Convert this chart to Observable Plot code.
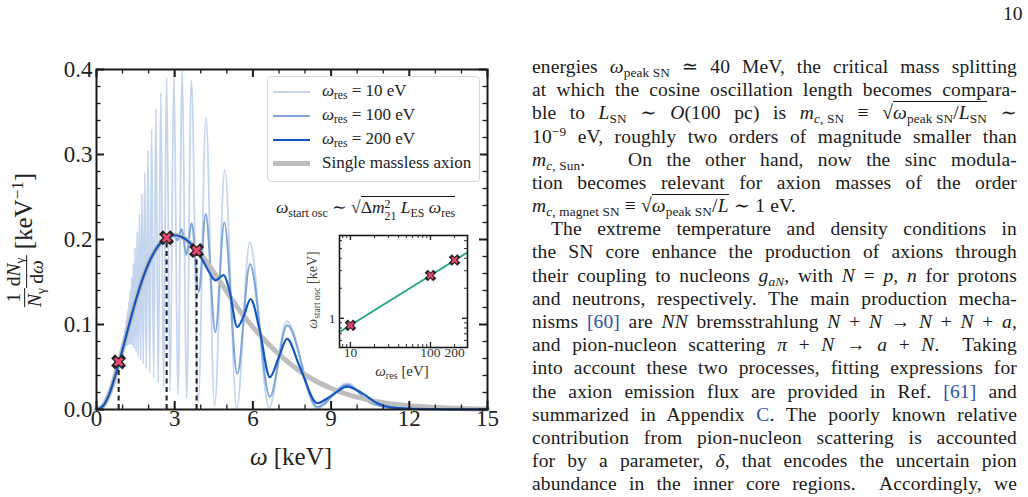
<!DOCTYPE html>
<html><head><meta charset="utf-8">
<script src="https://cdn.jsdelivr.net/npm/d3@7"></script>
<script src="https://cdn.jsdelivr.net/npm/@observablehq/plot@0.6"></script>
<style>
html,body{margin:0;padding:0;background:#fff;}
body{width:1028px;height:497px;position:relative;overflow:hidden;font-family:"Liberation Serif","DejaVu Serif",serif;color:#1a1a1a;}
.abs{position:absolute;}
sub{display:inline-block;font-size:0.68em;vertical-align:-0.3em;line-height:1;}
sup{display:inline-block;font-size:0.68em;vertical-align:0.5em;line-height:1;}
.line{position:absolute;left:532px;width:485px;font-size:19.5px;letter-spacing:0.15px;line-height:24px;height:24px;text-align:justify;text-align-last:justify;}
.ov{display:inline-block;border-top:1.2px solid #1a1a1a;line-height:1.05;padding-top:1px;}
.ref{color:#2b4fb0;}
.frac{display:inline-flex;flex-direction:column;vertical-align:middle;text-align:center;font-size:0.78em;line-height:1.05;}
.frac .num{border-bottom:1.6px solid #1a1a1a;padding:0 2px;}
.ss{display:inline-flex;flex-direction:column;vertical-align:0.38em;font-size:0.68em;line-height:0.95;}
.leg{position:absolute;left:322px;font-size:17px;line-height:20px;color:#222;white-space:nowrap;}
.sw{position:absolute;left:273px;width:37px;}
</style></head>
<body>
<div id="chart"></div>
<script>
// ---------------- data ----------------
const xMajorTicks = [0, 3, 6, 9, 12, 15];
const xMinorTicks = [1, 2, 4, 5, 7, 8, 10, 11, 13, 14];
const yMajorTicks = [0, 0.1, 0.2, 0.3, 0.4];
const yMinorTicks = [0.02,0.04,0.06,0.08,0.12,0.14,0.16,0.18,0.22,0.24,0.26,0.28,0.32,0.34,0.36,0.38];

// single massless axion
const masslessOmega = [0,0.25,0.5,0.75,1.0,1.25,1.5,1.75,2.0,2.25,2.5,2.75,3.0,3.25,3.5,3.75,4.0,4.5,5.0,5.5,6.0,6.5,7.0,7.5,8.0,8.5,9.0,9.5,10,11,12,13,14,15];
const masslessFlux  = [0,0.0042,0.019,0.043,0.0706,0.0998,0.1275,0.152,0.172,0.187,0.1975,0.203,0.205,0.2032,0.1985,0.191,0.1825,0.1614,0.1385,0.1158,0.097,0.080,0.065,0.052,0.041,0.032,0.025,0.019,0.0145,0.008,0.0045,0.0025,0.0013,0.0007];

// omega_res = 200 eV
const res200Omega = [0,0.25,0.5,0.75,1.0,1.25,1.5,1.75,2.0,2.25,2.5,2.75,3.0,3.25,3.5,3.84,4.1,4.35,4.56,4.88,5.1,5.40,5.65,5.91,6.25,6.65,7.0,7.31,7.8,8.47,9.0,9.62,10.2,10.8,11.3,12,13,14,15];
const res200Flux  = [0,0.0042,0.019,0.043,0.0706,0.0998,0.1275,0.152,0.172,0.187,0.1975,0.203,0.205,0.2032,0.1985,0.187,0.174,0.16,0.152,0.158,0.14,0.097,0.11,0.130,0.095,0.038,0.062,0.083,0.05,0.0075,0.016,0.027,0.019,0.007,0.0025,0.001,0.0004,0.0002,0.0001];

// omega_res = 100 eV
const res100Omega = [0,0.25,0.5,0.75,1.0,1.25,1.5,1.75,2.0,2.25,2.5,2.69,2.85,2.97,3.1,3.27,3.45,3.65,3.92,4.19,4.56,4.90,5.40,5.89,6.65,7.31,8.47,9.62,10.5,11.3,12,13,15];
const res100Flux  = [0,0.0042,0.019,0.043,0.0706,0.0998,0.1275,0.152,0.172,0.187,0.1975,0.2025,0.203,0.207,0.199,0.212,0.182,0.219,0.138,0.230,0.091,0.220,0.042,0.171,0.015,0.099,0.003,0.029,0.008,0.002,0.001,0.0004,0.0001];

// omega_res = 10 eV
const res10Omega = [0,0.25,0.5,0.75,1.0,1.04,1.059,1.078,1.098,1.118,1.140,1.162,1.186,1.210,1.235,1.261,1.288,1.317,1.347,1.378,1.411,1.445,1.481,1.519,1.559,1.601,1.646,1.693,1.742,1.795,1.851,1.911,1.974,2.042,2.115,2.193,2.277,2.368,2.467,2.573,2.690,2.823,2.97,3.122,3.29,3.455,3.64,3.90,4.20,4.53,4.92,5.38,5.88,6.62,7.30,8.45,9.62,10.5,11.3,12,13,15];
const res10Flux  = [0,0.0042,0.019,0.043,0.0706,0.074,0.085,0.073,0.095,0.074,0.105,0.075,0.115,0.076,0.126,0.077,0.140,0.077,0.155,0.075,0.172,0.072,0.190,0.068,0.209,0.063,0.230,0.058,0.254,0.053,0.279,0.048,0.305,0.043,0.330,0.037,0.354,0.032,0.373,0.027,0.390,0.022,0.398,0.017,0.399,0.013,0.388,0.008,0.344,0.004,0.282,0.001,0.197,0.002,0.104,0.001,0.031,0.008,0.002,0.001,0.0004,0.0001];

// start of oscillation markers
const startOmega = [0.85, 2.69, 3.84];
const startFlux  = [0.056, 0.202, 0.187];

// inset
const insetRes   = [10, 100, 200];
const insetStart = [0.85, 2.69, 3.84];
const fitRes     = [7.3, 290];
const fitStart   = [0.73, 4.58];
const insetXMajor = [10, 100];
const insetXMinor = [8, 9, 20, 30, 40, 50, 60, 70, 80, 90, 200];
const insetXLabels = [10, 100, 200];
const insetYMajor = [1];
const insetYMinor = [0.6, 0.7, 0.8, 0.9, 2, 3, 4, 5, 6];

// ---------------- build ----------------
const rows = (xs, ys) => xs.map((x, i) => ({x, y: ys[i]}));
const C = {light:"#c4d5ed", med:"#7fa4da", dark:"#1256c2", grey:"#bebebe", cross:"#e8476f", green:"#1fa67a"};
const ink = "#1a1a1a";
const IW = 391, IH = 340;
const crosses = rows(startOmega, startFlux);

const main = Plot.plot({
  width: 500, height: 440,
  marginLeft: 96, marginRight: 13, marginTop: 69, marginBottom: 31,
  x: {domain: [0, 15], axis: null},
  y: {domain: [0, 0.4], axis: null},
  style: {background: "transparent", fontFamily: "Liberation Serif, serif", overflow: "visible"},
  marks: [
    Plot.line(rows(res10Omega, res10Flux), {x: "x", y: "y", stroke: C.light, strokeWidth: 1.8, curve: "monotone-x"}),
    Plot.line(rows(res100Omega, res100Flux), {x: "x", y: "y", stroke: C.med, strokeWidth: 2, curve: "monotone-x"}),
    Plot.line(rows(masslessOmega, masslessFlux), {x: "x", y: "y", stroke: C.grey, strokeWidth: 5, curve: "monotone-x"}),
    Plot.line(rows(res200Omega, res200Flux), {x: "x", y: "y", stroke: C.dark, strokeWidth: 2.2, curve: "monotone-x"}),
    Plot.ruleX(crosses, {x: "x", y1: 0, y2: "y", stroke: ink, strokeWidth: 2, strokeDasharray: "5,3.5"}),
    Plot.dot(crosses, {x: "x", y: "y", symbol: "times", r: 3.4, stroke: "#222", strokeWidth: 5.5, strokeLinecap: "square"}),
    Plot.dot(crosses, {x: "x", y: "y", symbol: "times", r: 3.4, stroke: C.cross, strokeWidth: 3}),
    Plot.tickX(xMajorTicks, {x: d => d, insetTop: IH - 8, stroke: ink, strokeWidth: 2}),
    Plot.tickX(xMajorTicks, {x: d => d, insetBottom: IH - 8, stroke: ink, strokeWidth: 2}),
    Plot.tickX(xMinorTicks, {x: d => d, insetTop: IH - 4.5, stroke: ink, strokeWidth: 1.3}),
    Plot.tickX(xMinorTicks, {x: d => d, insetBottom: IH - 4.5, stroke: ink, strokeWidth: 1.3}),
    Plot.tickY(yMajorTicks, {y: d => d, insetRight: IW - 8, stroke: ink, strokeWidth: 2}),
    Plot.tickY(yMajorTicks, {y: d => d, insetLeft: IW - 8, stroke: ink, strokeWidth: 2}),
    Plot.tickY(yMinorTicks, {y: d => d, insetRight: IW - 4.5, stroke: ink, strokeWidth: 1.3}),
    Plot.tickY(yMinorTicks, {y: d => d, insetLeft: IW - 4.5, stroke: ink, strokeWidth: 1.3}),
    Plot.frame({stroke: ink, strokeWidth: 2}),
    Plot.text(xMajorTicks, {x: d => d, frameAnchor: "bottom", dy: 16, text: d => String(d), fontSize: 23, fill: "#222"}),
    Plot.text(yMajorTicks, {y: d => d, frameAnchor: "left", dx: -4, textAnchor: "end", text: d => d.toFixed(1), fontSize: 23, fill: "#222"})
  ]
});
main.style.position = "absolute"; main.style.left = "0px"; main.style.top = "0px";
document.getElementById("chart").appendChild(main);

const IW2 = 128, IH2 = 112;
const inset = Plot.plot({
  width: 180, height: 160,
  marginLeft: 39, marginRight: 13, marginTop: 10, marginBottom: 38,
  x: {type: "log", domain: [7.3, 290], axis: null},
  y: {type: "log", domain: [0.51, 6.76], axis: null},
  style: {background: "transparent", fontFamily: "Liberation Serif, serif", overflow: "visible"},
  marks: [
    Plot.frame({fill: "white"}),
    Plot.line(rows(fitRes, fitStart), {x: "x", y: "y", stroke: C.green, strokeWidth: 1.8}),
    Plot.dot(rows(insetRes, insetStart), {x: "x", y: "y", symbol: "times", r: 2.6, stroke: "#222", strokeWidth: 4.3, strokeLinecap: "square"}),
    Plot.dot(rows(insetRes, insetStart), {x: "x", y: "y", symbol: "times", r: 2.6, stroke: C.cross, strokeWidth: 2.2}),
    Plot.tickX(insetXMajor, {x: d => d, insetTop: IH2 - 5, stroke: ink, strokeWidth: 1.3}),
    Plot.tickX(insetXMajor, {x: d => d, insetBottom: IH2 - 5, stroke: ink, strokeWidth: 1.3}),
    Plot.tickX(insetXMinor, {x: d => d, insetTop: IH2 - 3, stroke: ink, strokeWidth: 0.9}),
    Plot.tickX(insetXMinor, {x: d => d, insetBottom: IH2 - 3, stroke: ink, strokeWidth: 0.9}),
    Plot.tickY(insetYMajor, {y: d => d, insetRight: IW2 - 5, stroke: ink, strokeWidth: 1.3}),
    Plot.tickY(insetYMajor, {y: d => d, insetLeft: IW2 - 5, stroke: ink, strokeWidth: 1.3}),
    Plot.tickY(insetYMinor, {y: d => d, insetRight: IW2 - 3, stroke: ink, strokeWidth: 0.9}),
    Plot.tickY(insetYMinor, {y: d => d, insetLeft: IW2 - 3, stroke: ink, strokeWidth: 0.9}),
    Plot.frame({stroke: ink, strokeWidth: 1.6}),
    Plot.text(insetXLabels, {x: d => d, frameAnchor: "bottom", dy: 9, text: d => String(d), fontSize: 13.5, fill: "#333"}),
    Plot.text(insetYMajor, {y: d => d, frameAnchor: "left", dx: -4, textAnchor: "end", text: d => String(d), fontSize: 13.5, fill: "#333"})
  ]
});
inset.style.position = "absolute"; inset.style.left = "300px"; inset.style.top = "225px";
document.getElementById("chart").appendChild(inset);
</script>

<!-- axis labels -->
<div class="abs" style="left:291px;top:457px;transform:translate(-50%,-50%);font-size:25px;white-space:nowrap;color:#222;"><i>ω</i> [keV]</div>
<div class="abs" style="left:26px;top:240px;transform:translate(-50%,-50%) rotate(-90deg);font-size:25px;white-space:nowrap;color:#222;">
<span class="frac"><span class="num">1</span><span><i>N</i><sub>γ</sub></span></span><span class="frac"><span class="num">d<i>N</i><sub>γ</sub></span><span>d<i>ω</i></span></span> [keV<sup>−1</sup>]</div>

<!-- legend -->
<div class="abs" style="left:267px;top:76px;width:211px;height:104px;border:1px solid #d8d8d8;border-radius:4px;background:rgba(255,255,255,0.85);"></div>
<div class="sw" style="top:91px;height:2px;background:#c4d5ed;"></div>
<div class="leg" style="top:81px;"><i>ω</i><sub>res</sub> = 10 eV</div>
<div class="sw" style="top:115px;height:2px;background:#7fa4da;"></div>
<div class="leg" style="top:105px;"><i>ω</i><sub>res</sub> = 100 eV</div>
<div class="sw" style="top:139px;height:2px;background:#1256c2;"></div>
<div class="leg" style="top:129px;"><i>ω</i><sub>res</sub> = 200 eV</div>
<div class="sw" style="top:161px;height:5px;background:#bebebe;"></div>
<div class="leg" style="top:153px;">Single massless axion</div>

<!-- formula -->
<div class="abs" style="left:276px;top:196px;font-size:17.5px;white-space:nowrap;color:#222;"><i>ω</i><sub>start osc</sub> ∼ √<span class="ov">Δ<i>m</i><span class="ss"><span>2</span><span>21</span></span> <i>L</i><sub>ES</sub> <i>ω</i><sub>res</sub></span></div>

<!-- inset labels -->
<div class="abs" style="left:402px;top:372px;transform:translate(-50%,-50%);font-size:15px;white-space:nowrap;color:#333;"><i>ω</i><sub>res</sub> [eV]</div>
<div class="abs" style="left:314px;top:290px;transform:translate(-50%,-50%) rotate(-90deg);font-size:14px;white-space:nowrap;color:#444;"><i>ω</i><sub>start osc</sub> [keV]</div>

<!-- page text -->
<div class="abs" style="left:1003px;top:2px;font-size:19.5px;line-height:24px;">10</div>
<div class="line" style="top:55px;">energies <i>ω</i><sub>peak SN</sub> ≃ 40 MeV, the critical mass splitting</div>
<div class="line" style="top:78px;">at which the cosine oscillation length becomes compara-</div>
<div class="line" style="top:101px;">ble to <i>L</i><sub>SN</sub> ∼ <i>O</i>(100 pc) is <i>m</i><sub><i>c</i>, SN</sub> ≡ √<span class="ov"><i>ω</i><sub>peak SN</sub>/<i>L</i><sub>SN</sub></span> ∼</div>
<div class="line" style="top:125px;">10<sup>−9</sup> eV, roughly two orders of magnitude smaller than</div>
<div class="line" style="top:148px;"><i>m</i><sub><i>c</i>, Sun</sub>.&nbsp;&nbsp; On the other hand, now the sinc modula-</div>
<div class="line" style="top:171px;">tion becomes relevant for axion masses of the order</div>
<div class="line" style="top:194px;text-align-last:left;"><i>m</i><sub><i>c</i>, magnet SN</sub> ≡ √<span class="ov"><i>ω</i><sub>peak SN</sub>/<i>L</i></span> ∼ 1 eV.</div>
<div class="line" style="top:217px;left:551px;width:466px;">The extreme temperature and density conditions in</div>
<div class="line" style="top:240px;">the SN core enhance the production of axions through</div>
<div class="line" style="top:264px;">their coupling to nucleons <i>g</i><sub><i>aN</i></sub>, with <i>N</i> = <i>p</i>, <i>n</i> for protons</div>
<div class="line" style="top:287px;">and neutrons, respectively. The main production mecha-</div>
<div class="line" style="top:310px;">nisms <span class="ref">[60]</span> are <i>NN</i> bremsstrahlung <i>N</i> + <i>N</i> → <i>N</i> + <i>N</i> + <i>a</i>,</div>
<div class="line" style="top:333px;">and pion-nucleon scattering <i>π</i> + <i>N</i> → <i>a</i> + <i>N</i>.&nbsp; Taking</div>
<div class="line" style="top:356px;">into account these two processes, fitting expressions for</div>
<div class="line" style="top:380px;">the axion emission flux are provided in Ref. <span class="ref">[61]</span> and</div>
<div class="line" style="top:403px;">summarized in Appendix <span class="ref">C</span>. The poorly known relative</div>
<div class="line" style="top:426px;">contribution from pion-nucleon scattering is accounted</div>
<div class="line" style="top:449px;">for by a parameter, <i>δ</i>, that encodes the uncertain pion</div>
<div class="line" style="top:472px;">abundance in the inner core regions.&nbsp; Accordingly, we</div>
</body></html>
